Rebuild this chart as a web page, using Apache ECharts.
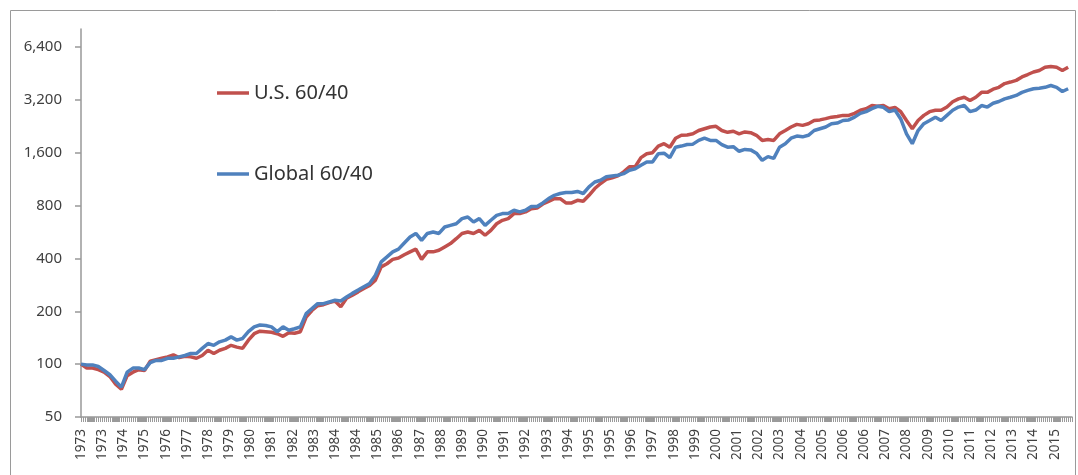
<!DOCTYPE html>
<html>
<head>
<meta charset="utf-8">
<script src="https://cdn.jsdelivr.net/npm/echarts@6/dist/echarts.min.js"></script>
<style>
  html, body { margin: 0; padding: 0; background: #ffffff; }
  #chart { width: 1078px; height: 475px; }
</style>
</head>
<body>
<div id="chart"></div>
<script>
// Monthly positions, Jan 1973 (0) .. Dec 2015 (515)
const startYear = 1973;
const endYear = 2015;
const monthCount = (endYear - startYear + 1) * 12;

// Tick labels shown every 11 months (as in the original Excel chart)
const xTickLabels = ['1973','1973','1974','1975','1976','1977','1978','1979','1980','1981','1982','1983',
  '1984','1984','1985','1986','1987','1988','1989','1990','1991','1992','1993','1994',
  '1995','1995','1996','1997','1998','1999','2000','2001','2002','2003','2004','2005',
  '2006','2006','2007','2008','2009','2010','2011','2012','2013','2014','2015'];
const labelEvery = 11;

// Y axis tick values (log base 2 scale)
const yTickValues = [50, 100, 200, 400, 800, 1600, 3200, 6400];

// Growth of 100, read quarterly (Jan, Apr, Jul, Oct) from the picture
const usValues = [
  100, 95, 95, 93,        // 1973
  90, 85, 77, 72,         // 1974
  86, 90, 93, 92,         // 1975
  104, 106, 108, 110,     // 1976
  113, 109, 111, 110,     // 1977
  108, 112, 120, 115,     // 1978
  120, 123, 128, 125,     // 1979
  123, 137, 149, 154,     // 1980
  153, 152, 149, 144,     // 1981
  151, 150, 153, 185,     // 1982
  202, 215, 218, 224,     // 1983
  229, 212, 237, 247,     // 1984
  258, 270, 281, 301,     // 1985
  358, 373, 395, 402,     // 1986
  420, 436, 452, 395,     // 1987
  436, 436, 445, 465,     // 1988
  486, 518, 555, 566,     // 1989
  555, 578, 542, 578,     // 1990
  630, 659, 674, 720,     // 1991
  720, 736, 768, 775,     // 1992
  817, 846, 876, 876,     // 1993
  828, 828, 857, 846,     // 1994
  915, 1000, 1068, 1128,  // 1995
  1150, 1180, 1245, 1330, // 1996
  1330, 1500, 1577, 1600, // 1997
  1745, 1800, 1720, 1935, // 1998
  2010, 2020, 2050, 2140, // 1999
  2190, 2240, 2260, 2140, // 2000
  2090, 2120, 2050, 2100, // 2001
  2080, 2010, 1880, 1900, // 2002
  1880, 2050, 2140, 2240, // 2003
  2320, 2290, 2340, 2440, // 2004
  2460, 2500, 2550, 2570, // 2005
  2610, 2610, 2680, 2790, // 2006
  2850, 2970, 2940, 2970, // 2007
  2850, 2900, 2740, 2440, // 2008
  2190, 2440, 2610, 2740, // 2009
  2790, 2790, 2910, 3120, // 2010
  3240, 3310, 3170, 3310, // 2011
  3530, 3530, 3680, 3770, // 2012
  3960, 4040, 4130, 4320, // 2013
  4460, 4610, 4700, 4900, // 2014
  4950, 4900, 4700, 4900  // 2015
];

const globalValues = [
  100, 99, 99, 97,        // 1973
  92, 87, 80, 74,         // 1974
  90, 95, 95, 93,         // 1975
  102, 105, 105, 108,     // 1976
  108, 110, 112, 115,     // 1977
  115, 123, 131, 128,     // 1978
  134, 137, 143, 137,     // 1979
  140, 153, 163, 167,     // 1980
  166, 163, 153, 163,     // 1981
  156, 159, 163, 194,     // 1982
  207, 221, 221, 226,     // 1983
  231, 229, 241, 253,     // 1984
  264, 276, 288, 321,     // 1985
  382, 408, 436, 452,     // 1986
  490, 530, 555, 507,     // 1987
  555, 566, 555, 604,     // 1988
  617, 630, 674, 689,     // 1989
  645, 674, 617, 660,     // 1990
  704, 720, 720, 752,     // 1991
  736, 752, 790, 790,     // 1992
  828, 876, 915, 937,     // 1993
  950, 950, 963, 937,     // 1994
  1023, 1090, 1114, 1168, // 1995
  1180, 1190, 1215, 1270, // 1996
  1296, 1356, 1415, 1415, // 1997
  1577, 1590, 1500, 1720, // 1998
  1745, 1780, 1790, 1880, // 1999
  1935, 1880, 1880, 1780, // 2000
  1720, 1730, 1630, 1670, // 2001
  1660, 1590, 1448, 1520, // 2002
  1485, 1720, 1800, 1935, // 2003
  1990, 1970, 2010, 2140, // 2004
  2190, 2240, 2340, 2360, // 2005
  2440, 2460, 2550, 2680, // 2006
  2740, 2850, 2940, 2900, // 2007
  2740, 2800, 2490, 2050, // 2008
  1800, 2140, 2340, 2440, // 2009
  2550, 2440, 2610, 2790, // 2010
  2910, 2970, 2740, 2800, // 2011
  2970, 2910, 3060, 3130, // 2012
  3240, 3310, 3390, 3530, // 2013
  3620, 3700, 3730, 3770, // 2014
  3860, 3770, 3570, 3700  // 2015
];

const seriesNames = ['U.S. 60/40', 'Global 60/40'];
const seriesColors = ['#C0504D', '#4F81BD'];
const monthsPerPoint = 3;

// log2 transform relative to the axis minimum (50)
const baseVal = 50;
const toAxis = v => Math.log2(v / baseVal);
const toPairs = arr => arr.map((v, i) => [i * monthsPerPoint, toAxis(v)]);

const chart = echarts.init(document.getElementById('chart'), null, { renderer: 'canvas' });
const yTickPositions = yTickValues.map(toAxis);

chart.setOption({
  animation: false,
  backgroundColor: '#ffffff',
  textStyle: { fontFamily: 'Noto Sans' },
  graphic: [{
    id: 'frame',
    type: 'rect',
    shape: { x: 10.5, y: 10.5, width: 1065, height: 500 },
    style: { fill: 'none', stroke: '#8c8c8c', lineWidth: 1.5 },
    silent: true
  }],
  legend: {
    orient: 'vertical',
    left: 212,
    top: 76,
    icon: 'rect',
    itemWidth: 32,
    itemHeight: 3.5,
    itemGap: 57,
    textStyle: { fontSize: 20, lineHeight: 24, color: '#333333', fontFamily: 'Noto Sans' },
    data: seriesNames.map((n, i) => ({ name: n, itemStyle: { color: seriesColors[i] } }))
  },
  grid: { left: 81, right: 6, top: 29, bottom: 58, containLabel: false },
  xAxis: {
    type: 'value',
    min: 0,
    max: monthCount - 1,
    interval: labelEvery,
    axisLine: { show: true, onZero: false, lineStyle: { color: '#999999', width: 1.5 } },
    axisTick: { show: true, length: 5, lineStyle: { color: '#9a9a9a', width: 1 } },
    minorTick: { show: true, splitNumber: labelEvery, length: 5, lineStyle: { color: '#9a9a9a', width: 1 } },
    axisLabel: {
      showMaxLabel: false,
      formatter: (v) => (v % labelEvery === 0 ? (xTickLabels[v / labelEvery] || '') : ''),
      rotate: 90,
      margin: 12,
      fontSize: 13.5,
      color: '#404040',
      fontFamily: 'Noto Sans'
    },
    splitLine: { show: false }
  },
  yAxis: {
    type: 'value',
    min: 0,
    max: 7.34,
    axisLine: { show: true, lineStyle: { color: '#999999', width: 1.5 } },
    axisTick: { show: true, length: 6, customValues: yTickPositions, lineStyle: { color: '#999999', width: 1.5 } },
    axisLabel: {
      customValues: yTickPositions,
      formatter: v => Math.round(baseVal * Math.pow(2, v)).toLocaleString('en-US'),
      margin: 19,
      fontSize: 15,
      color: '#404040',
      fontFamily: 'Noto Sans'
    },
    splitLine: { show: false }
  },
  series: [
    {
      name: seriesNames[0],
      type: 'line',
      data: toPairs(usValues),
      showSymbol: false,
      symbol: 'none',
      lineStyle: { color: seriesColors[0], width: 3.5 },
      itemStyle: { color: seriesColors[0] }
    },
    {
      name: seriesNames[1],
      type: 'line',
      data: toPairs(globalValues),
      showSymbol: false,
      symbol: 'none',
      lineStyle: { color: seriesColors[1], width: 3.5 },
      itemStyle: { color: seriesColors[1] }
    }
  ]
});

// Monthly tick marks along the x axis, positioned through the axis scale
const tickLines = [];
for (let m = 0; m < monthCount; m++) {
  const p = chart.convertToPixel({ gridIndex: 0 }, [m, 0]);
  tickLines.push({
    type: 'line',
    silent: true,
    z: 5,
    shape: { x1: Math.round(p[0]) + 0.5, y1: p[1], x2: Math.round(p[0]) + 0.5, y2: p[1] + 5 },
    style: { stroke: '#9a9a9a', lineWidth: 1 }
  });
}
chart.setOption({ graphic: [{ id: 'monthTicks', type: 'group', children: tickLines }] });
</script>
</body>
</html>
